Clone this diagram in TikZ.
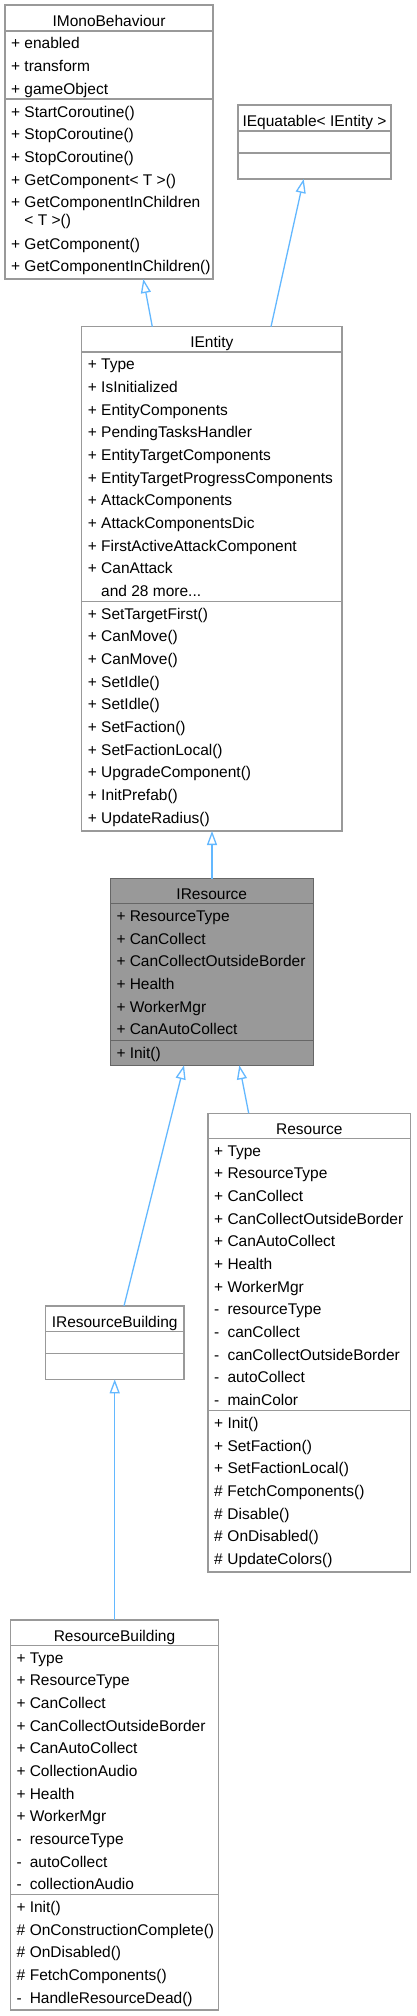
\documentclass[tikz,border=0pt]{standalone}
\usepackage{fontspec}
\setmainfont{Liberation Sans}
\usetikzlibrary{arrows.meta}
\definecolor{boxgray}{HTML}{999999}
\definecolor{bordergray}{HTML}{666666}
\definecolor{arrowblue}{HTML}{63B8FF}
\newcommand\memfont{\fontsize{15.5}{18}\selectfont}
% #1 name, #2 L, #3 T, #4 R, #5 B, #6 title bottom, #7 separator, #8 style, #9 title
\newcommand\umlbox[9]{%
  \node[classbox,#8,anchor=north west,minimum width={(#4-#2)*1pt},minimum height={(#5-#3)*1pt}] (#1) at (#2,#3) {};
  \draw[sepline,#8] (#2,#6) -- (#4,#6);
  \draw[sepline,#8] (#2,#7) -- (#4,#7);
  \node[titletext] (#1-title) at ({(#2+#4)/2},{#3+21}) {#9};
}
% #1 prefix, #2 L, #3 section top, #4 list
\newcommand\members[4]{%
  \foreach \s/\t [count=\i from 0] in {#4}
    \node[member] (#1\i) at ({#2+6},{#3+17.8+22.67*\i}) {\makebox[13.3pt][l]{\s}\t};
}
\begin{document}
\begin{tikzpicture}[x=1pt,y=-1pt,
  classbox/.style={draw=boxgray,fill=white,line width=1.3pt,inner sep=0pt,outer sep=0pt,rectangle},
  sepline/.style={draw=boxgray,line width=1.3pt},
  current/.style={fill=boxgray,draw=bordergray},
  titletext/.style={anchor=base,inner sep=0pt,font=\memfont},
  member/.style={anchor=base west,inner sep=0pt,font=\memfont},
  inh/.style={draw=arrowblue,line width=1.3pt,-{Triangle[open,length=14pt,width=10pt]}}]
\useasboundingbox (0,0) rectangle (416,2016);
\fill[white] (0,0) rectangle (416,2016);

% IMonoBehaviour
\umlbox{imono}{5}{5}{213}{279}{31}{99}{}{IMonoBehaviour}
\members{imono-a}{5}{31}{+/enabled,+/transform,+/gameObject}
\node[member] (imono-m0) at (11,117) {\makebox[13.3pt][l]{+}StartCoroutine()};
\node[member] (imono-m1) at (11,139.7) {\makebox[13.3pt][l]{+}StopCoroutine()};
\node[member] (imono-m2) at (11,162.4) {\makebox[13.3pt][l]{+}StopCoroutine()};
\node[member] (imono-m3) at (11,185.1) {\makebox[13.3pt][l]{+}GetComponent< T >()};
\node[member] (imono-m4) at (11,207.5) {\makebox[13.3pt][l]{+}GetComponentInChildren};
\node[member] (imono-m5) at (11,225.3) {\makebox[13.3pt][l]{}< T >()};
\node[member] (imono-m6) at (11,249) {\makebox[13.3pt][l]{+}GetComponent()};
\node[member] (imono-m7) at (11,271.5) {\makebox[13.3pt][l]{+}GetComponentInChildren()};

% IEquatable
\umlbox{iequat}{238}{105}{391}{179}{131}{153}{}{IEquatable< IEntity >}

% IEntity
\umlbox{ientity}{81.7}{326.7}{342}{831}{352}{601.3}{}{IEntity}
\members{ientity-a}{81.7}{352}{+/Type,+/IsInitialized,+/EntityComponents,+/PendingTasksHandler,+/EntityTargetComponents,+/EntityTargetProgressComponents,+/AttackComponents,+/AttackComponentsDic,+/FirstActiveAttackComponent,+/CanAttack}
\node[member] (ientity-a10) at (101,{352+17.8+226.7}) {and 28 more...};
\members{ientity-m}{81.7}{601.3}{+/SetTargetFirst(),+/CanMove(),+/CanMove(),+/SetIdle(),+/SetIdle(),+/SetFaction(),+/SetFactionLocal(),+/UpgradeComponent(),+/InitPrefab(),+/UpdateRadius()}

% IResource
\umlbox{iresource}{110.3}{878.7}{313.3}{1065.3}{903.7}{1040.3}{current}{IResource}
\members{iresource-a}{110.3}{903.7}{+/ResourceType,+/CanCollect,+/CanCollectOutsideBorder,+/Health,+/WorkerMgr,+/CanAutoCollect}
\members{iresource-m}{110.3}{1040.3}{+/Init()}

% Resource
\umlbox{resource}{208}{1113.3}{410.7}{1572}{1138.3}{1410.7}{}{Resource}
\members{resource-a}{208}{1138.3}{+/Type,+/ResourceType,+/CanCollect,+/CanCollectOutsideBorder,+/CanAutoCollect,+/Health,+/WorkerMgr,-/resourceType,-/canCollect,-/canCollectOutsideBorder,-/autoCollect,-/mainColor}
\members{resource-m}{208}{1410.7}{+/Init(),+/SetFaction(),+/SetFactionLocal(),\#/FetchComponents(),\#/Disable(),\#/OnDisabled(),\#/UpdateColors()}

% IResourceBuilding
\umlbox{irb}{45.3}{1306}{184}{1379.3}{1331.3}{1353.7}{}{IResourceBuilding}

% ResourceBuilding
\umlbox{rb}{10.3}{1620}{218.7}{2010}{1645.3}{1894.7}{}{ResourceBuilding}
\members{rb-a}{10.3}{1645.3}{+/Type,+/ResourceType,+/CanCollect,+/CanCollectOutsideBorder,+/CanAutoCollect,+/CollectionAudio,+/Health,+/WorkerMgr,-/resourceType,-/autoCollect,-/collectionAudio}
\members{rb-m}{10.3}{1894.7}{+/Init(),\#/OnConstructionComplete(),\#/OnDisabled(),\#/FetchComponents(),-/HandleResourceDead()}

% inheritance connectors
\draw[inh] ([xshift=70.6pt]ientity.north west) -- ([xshift=138.3pt]imono.south west);
\draw[inh] ([xshift=189.3pt]ientity.north west) -- ([xshift=65.7pt]iequat.south west);
\draw[inh] ([xshift=101.7pt]iresource.north west) -- ([xshift=130.3pt]ientity.south west);
\draw[inh] ([xshift=78.7pt]irb.north west) -- ([xshift=73.7pt]iresource.south west);
\draw[inh] ([xshift=40.7pt]resource.north west) -- ([xshift=129pt]iresource.south west);
\draw[inh] ([xshift=104.4pt]rb.north west) -- ([xshift=69.4pt]irb.south west);
\end{tikzpicture}
\end{document}
